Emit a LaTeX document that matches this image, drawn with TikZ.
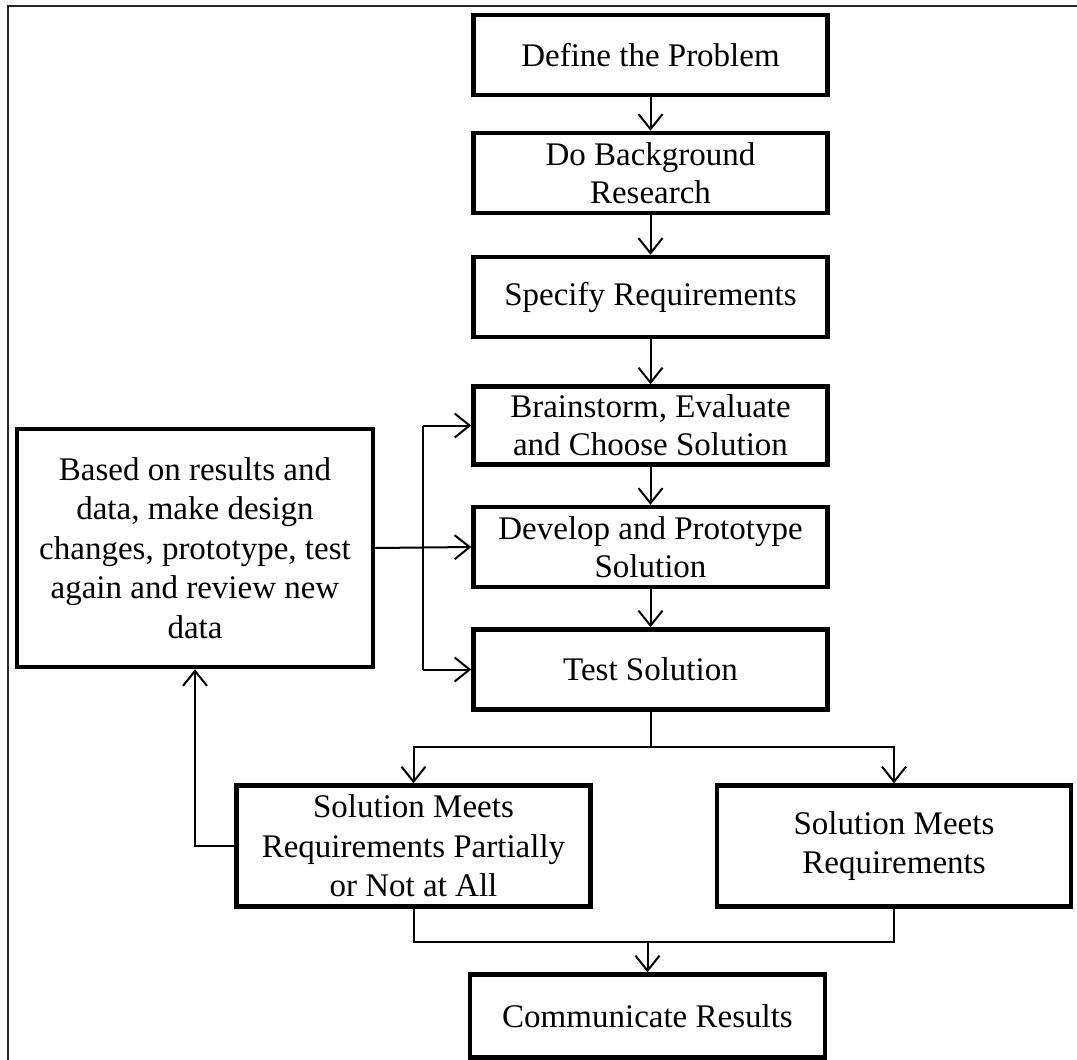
\documentclass[tikz,border=0pt]{standalone}
\usepackage{fontspec}
\setmainfont{Liberation Serif}
\usetikzlibrary{arrows.meta,calc}
\begin{document}
\begin{tikzpicture}[x=1pt,y=-1pt,
  stepbox/.style={draw=black,line width=4.5pt,rectangle,align=center,
    minimum width=354pt,inner sep=0pt,
    font=\fontsize{33}{38}\selectfont},
  tallbox/.style={stepbox,font=\fontsize{33}{39.5}\selectfont},
  conn/.style={draw=black,line width=2pt},
  arr/.style={conn,-{Straight Barb[length=15pt,width=24pt,line width=2pt]}}]
\clip (0,0) rectangle (1077,1060);
\useasboundingbox (0,0) rectangle (1077,1060);
% outer frame
\draw[line width=2pt,black!85] (8,5.5) rectangle (1100,1100);
% main column
\node[stepbox,minimum height=80pt] (def)   at (650.5,55)  {Define the Problem};
\node[stepbox,minimum height=80pt] (bg)    at (650.5,173) {Do Background\\Research};
\node[stepbox,minimum height=80pt] (spec)  at (650.5,297) {Specify Requirements};
\node[stepbox,minimum height=78pt] (brain) at (650.5,425.5) {Brainstorm, Evaluate\\and Choose Solution};
\node[stepbox,minimum height=80pt] (dev)   at (650.5,547) {Develop and Prototype\\Solution};
\node[stepbox,minimum height=80pt] (test)  at (650.5,669.5) {Test Solution};
% side and outcome boxes
\node[tallbox,minimum width=356pt,minimum height=238pt] (based) at (195,548)
  {Based on results and\\data, make design\\changes, prototype, test\\again and review new\\data};
\node[tallbox,minimum height=121pt] (part)  at (413.5,846) {Solution Meets\\Requirements Partially\\or Not at All};
\node[tallbox,minimum height=121pt] (meets) at (894,846) {Solution Meets\\Requirements};
\node[stepbox,minimum width=355pt,minimum height=83pt] (comm) at (647.5,1016) {Communicate Results};
% straight arrows down the column
\draw[arr] (def) -- (bg);
\draw[arr] (bg) -- (spec);
\draw[arr] (spec) -- (brain);
\draw[arr] (brain) -- (dev);
\draw[arr] (dev) -- (test);
% feedback branch to the three steps
\coordinate (br) at (423,548);
\draw[arr] (based.east) -- (dev.west);
\draw[conn] (br |- brain.west) -- (br |- test.west);
\draw[arr] (br |- brain.west) -- (brain.west);
\draw[arr] (br |- test.west) -- (test.west);
% split after testing
\path (test.south) ++(0,35) coordinate (split);
\draw[conn] (test.south) -- (split);
\draw[arr] (split) -| (part.north);
\draw[arr] (split) -| (meets.north);
% loop back for redesign
\draw[arr] (part.west) -| (based.south);
% merge into communication
\path (part.south) ++(0,33) coordinate (mg);
\draw[conn] (part.south) -- (mg) -| (meets.south);
\draw[arr] (mg -| comm.north) -- (comm.north);
\end{tikzpicture}
\end{document}
